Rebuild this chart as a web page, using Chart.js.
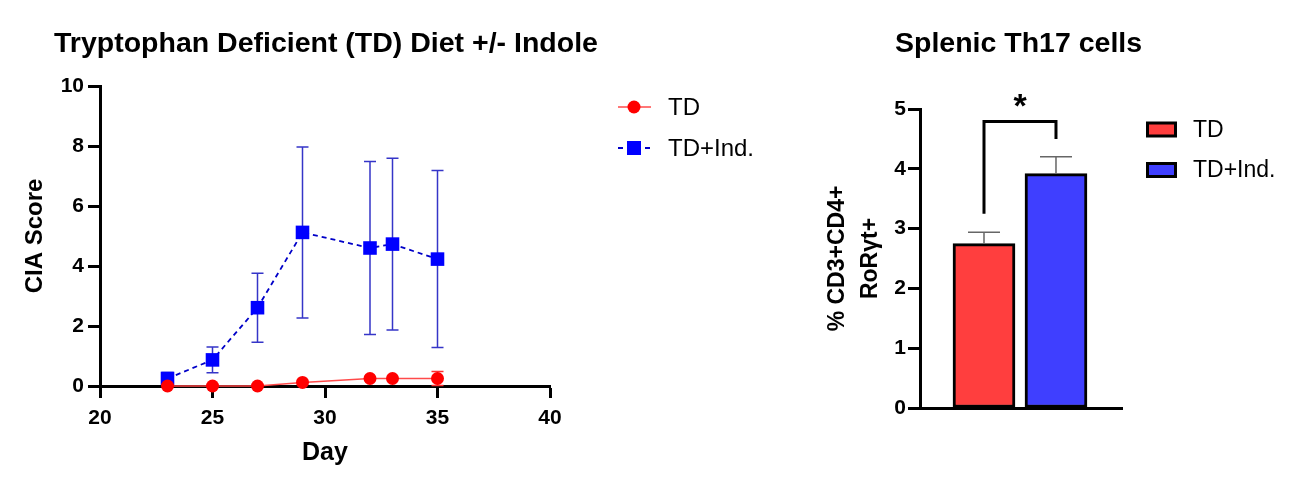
<!DOCTYPE html>
<html>
<head>
<meta charset="utf-8">
<script src="https://cdn.jsdelivr.net/npm/chart.js@4.4.1/dist/chart.umd.min.js"></script>
<style>
  html, body { margin: 0; padding: 0; background: #fff; }
  #wrap { position: relative; width: 1305px; height: 488px; }
  canvas { position: absolute; top: 0; }
  #cia { left: 0; }
  #th17 { left: 820px; }
</style>
</head>
<body>
<div id="wrap">
  <canvas id="cia" width="820" height="488"></canvas>
  <canvas id="th17" width="485" height="488"></canvas>
</div>
<script>
// CIA score over time
const days = [23, 25, 27, 29, 32, 33, 35];
const tdScore = [0, 0, 0, 0.12, 0.25, 0.25, 0.25];
const tdErr = [0, 0, 0, 0, 0, 0, 0.23];
const indScore = [0.25, 0.87, 2.61, 5.12, 4.6, 4.73, 4.23];
const indErr = [0.2, 0.43, 1.15, 2.85, 2.88, 2.86, 2.95];
const dayTicks = [20, 25, 30, 35, 40];
const ciaTicks = [0, 2, 4, 6, 8, 10];

// Th17 bars
const groups = ["TD", "TD+Ind."];
const th17Mean = [2.75, 3.92];
const th17Err = [0.19, 0.28];
const th17Ticks = [0, 1, 2, 3, 4, 5];
const sigBracket = [4.79, 3.25, 4.5]; // top, left leg end, right leg end
const sigLabel = "*";

Chart.defaults.font.family = "'Liberation Sans', Arial, sans-serif";
Chart.defaults.color = "#000";

const RED = "#ff0000";
const BLUE = "#0000ff";

function fixTicks(arr) {
  return scale => { scale.ticks = arr.map(v => ({ value: v })); };
}

// error bars from the error arrays
const errorBars = {
  id: "errorBars",
  draw(chart, after) {
    const ctx = chart.ctx;
    const y = chart.scales.y;
    chart.data.datasets.forEach((ds, di) => {
      if (!ds.errors || !!ds.errAfter !== after) return;
      const meta = chart.getDatasetMeta(di);
      ctx.save();
      ctx.strokeStyle = ds.errColor;
      ctx.lineWidth = ds.errWidth;
      meta.data.forEach((el, i) => {
        const e = ds.errors[i];
        if (!e) return;
        const v = typeof ds.data[i] === "object" ? ds.data[i].y : ds.data[i];
        const top = y.getPixelForValue(v + e);
        const bot = ds.upperOnly ? el.y : y.getPixelForValue(v - e);
        const cap = ds.errCap;
        ctx.beginPath();
        ctx.moveTo(el.x, top); ctx.lineTo(el.x, bot);
        ctx.moveTo(el.x - cap, top); ctx.lineTo(el.x + cap, top);
        if (!ds.upperOnly) { ctx.moveTo(el.x - cap, bot); ctx.lineTo(el.x + cap, bot); }
        ctx.stroke();
      });
      ctx.restore();
    });
  },
  beforeDatasetsDraw(chart) { this.draw(chart, false); },
  afterDatasetsDraw(chart) { this.draw(chart, true); }
};

function drawTitle(ctx, text, x, y) {
  ctx.save();
  ctx.font = "bold 28.5px 'Liberation Sans', Arial, sans-serif";
  ctx.fillStyle = "#000";
  ctx.textBaseline = "alphabetic";
  ctx.fillText(text, x, y);
  ctx.restore();
}

// left chart: title + line legend
const ciaExtras = {
  id: "ciaExtras",
  afterDraw(chart) {
    const ctx = chart.ctx;
    drawTitle(ctx, "Tryptophan Deficient (TD) Diet +/- Indole", 54, 52);
    const rows = [107, 148];
    chart.data.datasets.forEach((ds, i) => {
      const cy = rows[i];
      ctx.save();
      ctx.strokeStyle = ds.borderColor;
      ctx.lineWidth = ds.borderWidth;
      ctx.setLineDash(ds.borderDash || []);
      ctx.beginPath();
      ctx.moveTo(618, cy); ctx.lineTo(651, cy);
      ctx.stroke();
      ctx.setLineDash([]);
      ctx.fillStyle = ds.pointBackgroundColor;
      if (ds.pointStyle === "rect") ctx.fillRect(627, cy - 7, 14, 14);
      else { ctx.beginPath(); ctx.arc(634, cy, 6.5, 0, Math.PI * 2); ctx.fill(); }
      ctx.font = "24px 'Liberation Sans', Arial, sans-serif";
      ctx.fillStyle = "#000";
      ctx.textBaseline = "middle";
      ctx.fillText(ds.label, 668, cy + 1);
      ctx.restore();
    });
  }
};

new Chart(document.getElementById("cia"), {
  type: "line",
  data: {
    datasets: [
      {
        label: "TD",
        data: days.map((d, i) => ({ x: d, y: tdScore[i] })),
        errors: tdErr, errColor: "#ff3030", errWidth: 1.5, errCap: 6,
        borderColor: "#ff4a4a", borderWidth: 1.5,
        pointStyle: "circle", pointRadius: 6.5, pointBorderWidth: 0,
        pointBackgroundColor: RED, clip: false
      },
      {
        label: "TD+Ind.",
        data: days.map((d, i) => ({ x: d, y: indScore[i] })),
        errors: indErr, errColor: "#3535c8", errWidth: 1.5, errCap: 6,
        borderColor: "#0000c8", borderWidth: 1.8, borderDash: [5, 4],
        pointStyle: "rect", pointRadius: 9.6, pointBorderWidth: 0,
        pointBackgroundColor: BLUE, clip: false
      }
    ]
  },
  options: {
    responsive: false,
    animation: false,
    events: [],
    layout: { padding: { left: 0, right: 270, top: 86, bottom: 0 } },
    plugins: { legend: { display: false }, tooltip: { enabled: false } },
    scales: {
      x: {
        type: "linear", min: 20, max: 40,
        afterBuildTicks: fixTicks(dayTicks),
        afterFit: s => { s.height = 102; },
        ticks: { font: { size: 21, weight: "bold" }, padding: 8 },
        grid: { drawOnChartArea: false, tickLength: 12, tickWidth: 3, tickColor: "#000" },
        border: { width: 3, color: "#000" },
        title: { display: true, text: "Day", font: { size: 25, weight: "bold" }, padding: { top: 0, bottom: 20 } }
      },
      y: {
        min: 0, max: 10,
        afterBuildTicks: fixTicks(ciaTicks),
        afterFit: s => { s.width = 100; },
        ticks: { font: { size: 21, weight: "bold" }, padding: 4 },
        grid: { drawOnChartArea: false, tickLength: 12, tickWidth: 3, tickColor: "#000" },
        border: { width: 3, color: "#000" },
        title: { display: true, text: "CIA Score", font: { size: 24, weight: "bold" }, padding: { top: 21, bottom: 0 } }
      }
    }
  },
  plugins: [errorBars, ciaExtras]
});

// right chart: title, significance bracket, box legend
const th17Extras = {
  id: "th17Extras",
  afterDraw(chart) {
    const ctx = chart.ctx;
    drawTitle(ctx, "Splenic Th17 cells", 75, 52);
    const meta = chart.getDatasetMeta(0);
    const y = chart.scales.y;
    const xl = meta.data[0].x, xr = meta.data[1].x;
    const yt = y.getPixelForValue(sigBracket[0]);
    ctx.save();
    ctx.strokeStyle = "#000";
    ctx.lineWidth = 3;
    ctx.beginPath();
    ctx.moveTo(xl, y.getPixelForValue(sigBracket[1]));
    ctx.lineTo(xl, yt); ctx.lineTo(xr, yt);
    ctx.lineTo(xr, y.getPixelForValue(sigBracket[2]));
    ctx.stroke();
    ctx.font = "bold 34px 'Liberation Sans', Arial, sans-serif";
    ctx.fillStyle = "#000";
    ctx.textAlign = "center";
    ctx.textBaseline = "middle";
    ctx.fillText(sigLabel, (xl + xr) / 2, yt - 14);
    ctx.restore();

    const ds = chart.data.datasets[0];
    const rows = [129.5, 170];
    groups.forEach((g, i) => {
      ctx.save();
      ctx.fillStyle = ds.backgroundColor[i];
      ctx.strokeStyle = "#000";
      ctx.lineWidth = 3;
      ctx.fillRect(327.5, rows[i] - 6.5, 28, 13);
      ctx.strokeRect(327.5, rows[i] - 6.5, 28, 13);
      ctx.font = "23px 'Liberation Sans', Arial, sans-serif";
      ctx.fillStyle = "#000";
      ctx.textBaseline = "middle";
      ctx.fillText(g, 373, rows[i] + 1);
      ctx.restore();
    });
  }
};

new Chart(document.getElementById("th17"), {
  type: "bar",
  data: {
    datasets: [{
      label: "Th17",
      data: groups.map((g, i) => ({ x: i, y: th17Mean[i] })),
      errors: th17Err, errColor: "#666", errWidth: 1.5, errCap: 16, upperOnly: true, errAfter: true,
      backgroundColor: ["#ff3e3e", "#3f3fff"],
      borderColor: "#000", borderWidth: 3, borderSkipped: false,
      barThickness: 62
    }]
  },
  options: {
    responsive: false,
    animation: false,
    events: [],
    layout: { padding: { left: 0, right: 183, top: 109, bottom: 0 } },
    plugins: { legend: { display: false }, tooltip: { enabled: false } },
    scales: {
      x: {
        type: "linear", min: -0.889, max: 1.917, offset: false,
        afterFit: s => { s.height = 80; },
        ticks: { display: false },
        grid: { display: false },
        border: { display: true, width: 3, color: "#000" }
      },
      y: {
        min: 0, max: 5,
        afterBuildTicks: fixTicks(th17Ticks),
        afterFit: s => { s.width = 100; },
        ticks: { font: { size: 21, weight: "bold" }, padding: 2 },
        grid: { drawOnChartArea: false, tickLength: 12, tickWidth: 3, tickColor: "#000" },
        border: { width: 3, color: "#000" },
        title: {
          display: true, text: ["% CD3+CD4+", "RoRγt+"],
          font: { size: 23, weight: "bold", lineHeight: 1.4 }, padding: { top: 2, bottom: 0 }
        }
      }
    }
  },
  plugins: [errorBars, th17Extras]
});
</script>
</body>
</html>
